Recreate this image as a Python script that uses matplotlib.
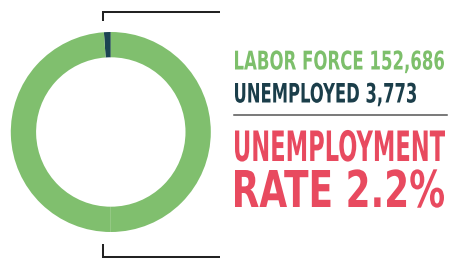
import matplotlib
matplotlib.use("Agg")
import matplotlib.pyplot as plt
from matplotlib.patheffects import AbstractPathEffect
from matplotlib.transforms import Affine2D
from matplotlib.textpath import TextPath
from matplotlib.font_manager import FontProperties

labor_force = 152686
unemployed = 3773
rate = 2.2

# ring as drawn: dark sliver at top, then the two green halves
ring_shares = [1.1, 48.9, 50.0]
ring_colors = ["#1b4452", "#80bf6e", "#80bf6e"]

W, H = 451, 259
GREEN = "#7dbf6b"
DARK = "#1b3e4a"
RED = "#e84a5f"
FAMILY = ["Liberation Sans Narrow", "DejaVu Sans"]


class StretchText(AbstractPathEffect):
    # scale glyphs about the baseline so a regular font looks condensed
    def __init__(self, sx, sy):
        super().__init__()
        self.sx, self.sy = sx, sy

    def draw_path(self, renderer, gc, tpath, affine, rgbFace=None):
        renderer.draw_path(gc, tpath, Affine2D().scale(self.sx, self.sy) + affine, rgbFace)


fp = FontProperties(family=FAMILY, weight="bold", stretch="condensed")
cap = TextPath((0, 0), "H", size=100, prop=fp).get_extents().ymax


def label(ax, s, x0, x1, top, base, color):
    ext = TextPath((0, 0), s, size=100, prop=fp).get_extents()
    fpx = 100 * (x1 - x0) / (ext.xmax - ext.xmin)
    sy = (base - top) / (cap * fpx / 100)
    ax.text(x0 - ext.xmin * fpx / 100, base, s, fontproperties=fp,
            fontsize=fpx * 0.72, color=color, ha="left", va="baseline",
            path_effects=[StretchText(1, sy)])


fig = plt.figure(figsize=(W / 100, H / 100), dpi=100)

ax = fig.add_axes([10.8 / W, (H - 232) / H, 200 / W, 200 / H])
ax.pie(ring_shares, colors=ring_colors, startangle=90, counterclock=True,
       radius=1, wedgeprops=dict(width=0.253, linewidth=0))
ax.set_xlim(-1, 1)
ax.set_ylim(-1, 1)
ax.set_aspect("equal")
ax.axis("off")

ov = fig.add_axes([0, 0, 1, 1])
ov.set_xlim(0, W)
ov.set_ylim(H, 0)
ov.axis("off")

# brackets above and below the ring
ov.plot([103.3, 103.3, 220], [21, 12, 12], color="#222222", lw=1.45,
        solid_joinstyle="miter", solid_capstyle="butt")
ov.plot([103.3, 103.3, 220], [244, 257.3, 257.3], color="#222222", lw=1.45,
        solid_joinstyle="miter", solid_capstyle="butt")
ov.plot([234, 447], [115, 115], color="#555555", lw=1.1)

label(ov, f"LABOR FORCE {labor_force:,}", 235, 444, 50.7, 69.5, GREEN)
label(ov, f"UNEMPLOYED {unemployed:,}", 235, 416, 83, 102.5, DARK)
label(ov, "UNEMPLOYMENT", 235, 445, 130.5, 161, RED)
label(ov, f"RATE {rate}%", 235, 444, 170, 207, RED)

fig.savefig("out.png", dpi=100)
